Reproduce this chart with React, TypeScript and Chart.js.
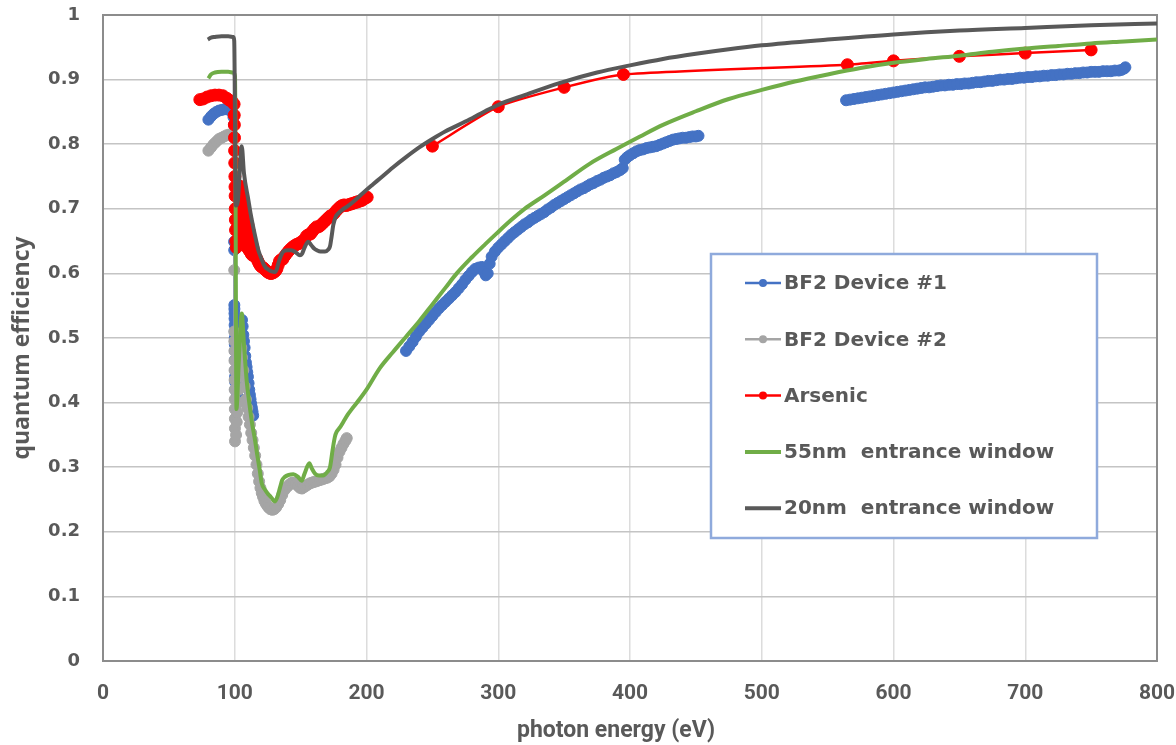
import { useEffect, useRef } from "react";
import { Chart, registerables } from "chart.js";

Chart.register(...registerables);

// ---- text ----
const xTitle = "photon energy (eV)";
const yTitle = "quantum efficiency";
const seriesNames = [
  "BF2 Device #1",
  "BF2 Device #2",
  "Arsenic",
  "55nm  entrance window",
  "20nm  entrance window",
];
const seriesColors = ["#4472c4", "#a5a5a5", "#ff0000", "#70ad47", "#595959"];
const seriesHasMarkers = [true, true, true, false, false];

// ---- BF2 Device #1 (null = gap between measurement runs) ----
const dev1Energy = [
  80, 82, 84, 86, 88, 90, 92, 94, 96, 98,
  99, 99.4, 99.5, 99.6, 99.7, 99.75, 99.8, 99.85, 99.9, 99.95,
  100, 100.05, 100.1, 100.15, 100.2, 100.25, 100.3, 100.35,
  101.5, 102, 102.5, 103, 103.5, 104, 104.5, 105, 105.5, 106,
  106.5, 107, 107.5, 108, 108.5, 109, 109.5, 110, 110.5, 111,
  111.5, 112, 112.5, 113, 113.5, 114,
  170,
  230, 232.5, 235, 237.5, 240, 242.5, 245, 247.5, 250, 252.5,
  255, 257.5, 260, 262.5, 265, 267.5, 270, 272.5, 275, 277.5,
  280, 282.5, 285, 287.5, 289, 290.5, 292, 293.5, 295, 297.5,
  300, 302.5, 305, 307.5, 310, 312.5, 315, 317.5, 320, 322.5,
  325, 327.5, 330, 332.5, 335, 337.5, 340, 342.5, 345, 347.5,
  350, 352.5, 355, 357.5, 360, 362.5, 365, 367.5, 370, 372.5,
  375, 377.5, 380, 382.5, 385, 387.5, 390, 392.5, 394.5, 396,
  398, 400, 402.5, 405, 407.5, 410, 412.5, 415, 417.5, 420,
  422.5, 425, 427.5, 430, 432.5, 435, 437.5, 440, 442.5, 445,
  447.5, 450, 452,
  500,
  564, 567, 570, 573, 576, 579, 582, 585, 588, 591,
  594, 597, 600, 603, 606, 609, 612, 615, 618, 621,
  624, 627, 630, 633, 636, 639, 642, 645, 648, 651,
  654, 657, 660, 663, 666, 669, 672, 675, 678, 681,
  684, 687, 690, 693, 696, 699, 702, 705, 708, 711,
  714, 717, 720, 723, 726, 729, 732, 735, 738, 741,
  744, 747, 750, 753, 756, 759, 762, 765, 768, 771,
  773, 775, 776,
];
const dev1QE = [
  0.838, 0.843, 0.847, 0.85, 0.852, 0.853, 0.854, 0.854, 0.853, 0.85,
  0.842, 0.83, 0.649, 0.636, 0.551, 0.545, 0.538, 0.53, 0.52, 0.51,
  0.5, 0.49, 0.48, 0.466, 0.45, 0.44, 0.432, 0.42,
  0.409, 0.41, 0.425, 0.44, 0.46, 0.48, 0.5, 0.515, 0.528, 0.518,
  0.505, 0.495, 0.485, 0.472, 0.462, 0.455, 0.447, 0.44, 0.43, 0.42,
  0.412, 0.405, 0.398, 0.392, 0.386, 0.38,
  null,
  0.48, 0.487, 0.494, 0.502, 0.51, 0.516, 0.522, 0.528, 0.534, 0.54,
  0.546, 0.551, 0.556, 0.561, 0.566, 0.571, 0.577, 0.583, 0.59, 0.596,
  0.602, 0.607, 0.609, 0.61, 0.603, 0.597, 0.6, 0.615, 0.626, 0.634,
  0.64, 0.645, 0.65, 0.655, 0.66, 0.664, 0.668, 0.672, 0.676, 0.679,
  0.683, 0.686, 0.689, 0.692, 0.695, 0.699, 0.702, 0.706, 0.709, 0.712,
  0.715, 0.718, 0.721, 0.724, 0.727, 0.73, 0.732, 0.735, 0.738, 0.74,
  0.743, 0.745, 0.748, 0.75, 0.752, 0.755, 0.757, 0.76, 0.763, 0.776,
  0.78, 0.783, 0.786, 0.789, 0.791, 0.792, 0.794, 0.795, 0.796, 0.797,
  0.799, 0.801, 0.803, 0.805, 0.807, 0.808, 0.809, 0.81, 0.81, 0.811,
  0.812, 0.812, 0.813,
  null,
  0.868, 0.869, 0.87, 0.871, 0.872, 0.873, 0.874, 0.875, 0.876, 0.877,
  0.878, 0.879, 0.88, 0.881, 0.882, 0.883, 0.884, 0.885, 0.886, 0.887,
  0.888, 0.888, 0.889, 0.89, 0.891, 0.891, 0.892, 0.892, 0.893, 0.893,
  0.894, 0.894, 0.895, 0.896, 0.896, 0.897, 0.898, 0.898, 0.899, 0.9,
  0.9, 0.901, 0.901, 0.902, 0.903, 0.903, 0.904, 0.904, 0.905, 0.905,
  0.906, 0.906, 0.907, 0.907, 0.908, 0.908, 0.909, 0.909, 0.91, 0.91,
  0.911, 0.911, 0.912, 0.912, 0.912, 0.913, 0.913, 0.913, 0.914, 0.914,
  0.915, 0.917, 0.919,
];

// ---- BF2 Device #2 ----
const dev2Energy = [
  80, 82, 84, 86, 88, 90, 92, 94, 96, 98,
  99.3, 99.6, 99.65, 99.7, 99.75, 99.8, 99.85, 99.9, 99.95, 100,
  100.05, 100.1, 100.15, 100.2, 101, 101.5, 102, 102.5, 103, 103.5,
  104, 104.5, 105, 105.5, 106.5, 107.5, 108.5, 109.5, 110.5, 111.5,
  112.5, 113.5, 114.5, 115.5, 116.5, 117.5, 118.5, 119.5, 120.5, 121.5,
  122.5, 123.5, 124.5, 125.5, 127, 128.5, 130, 131.5, 133, 134.5,
  136, 137.5, 139, 140.5, 142, 143.5, 145, 146.5, 148, 149.5,
  151, 152.5, 154, 155.5, 157, 158.5, 160, 161.5, 163, 164.5,
  166, 167.5, 169, 170.5, 172, 173.5, 175, 176.5, 178, 179.5,
  181, 182.5, 184, 185,
];
const dev2QE = [
  0.79, 0.795, 0.8, 0.804, 0.808, 0.81, 0.812, 0.814, 0.815, 0.815,
  0.81, 0.605, 0.51, 0.495, 0.48, 0.465, 0.45, 0.435, 0.42, 0.405,
  0.39, 0.375, 0.36, 0.34, 0.35, 0.37, 0.385, 0.4, 0.42, 0.44,
  0.46, 0.48, 0.485, 0.47, 0.45, 0.425, 0.405, 0.392, 0.378, 0.366,
  0.353, 0.342, 0.33, 0.318, 0.304, 0.29, 0.278, 0.268, 0.26, 0.254,
  0.248, 0.244, 0.241, 0.238, 0.235, 0.234, 0.235, 0.238, 0.243, 0.249,
  0.257, 0.264, 0.268, 0.271, 0.274, 0.276, 0.276, 0.274, 0.271, 0.268,
  0.267, 0.269, 0.271, 0.273, 0.275, 0.276, 0.277, 0.278, 0.279, 0.28,
  0.281, 0.282, 0.283, 0.284, 0.286, 0.29, 0.296, 0.304, 0.315, 0.324,
  0.33, 0.336, 0.341, 0.345,
];

// ---- Arsenic ----
const arsenicEnergy = [
  73.5, 76, 79, 82, 85, 88, 91, 94, 96, 98,
  99.5, 99.6, 99.7, 99.8, 99.9, 100, 100.1, 100.2, 100.3, 100.4,
  100.5, 100.6, 100.8, 101.2, 101.6, 102, 102.5, 103, 103.5, 104,
  104.5, 105, 105.5, 106, 106.5, 107, 107.5, 108, 108.5, 109,
  109.5, 110, 110.5, 111, 111.5, 112, 112.5, 113, 113.5, 114,
  115, 115.8, 116.7, 117.6, 118.5, 119.4, 120.4, 121.2, 122, 123,
  124, 125, 126, 127, 128, 129, 130, 131, 132, 133,
  134, 135, 136.5, 138, 139.5, 141, 142.5, 144, 145.5, 147,
  148.5, 150, 151.5, 153, 154.5, 156, 157.5, 159, 160.5, 162,
  163.5, 165, 166.5, 168, 169.5, 171, 172.5, 174, 175.5, 177,
  178.5, 180, 181.5, 183, 184.5, 186, 187.5, 189, 190.5, 192,
  193.5, 195, 196.5, 198, 199.5, 200.5,
  225,
  250, 300, 350, 395, 565, 600, 650, 700, 750,
];
const arsenicQE = [
  0.869, 0.87, 0.873, 0.875, 0.876, 0.876, 0.875, 0.871, 0.868, 0.866,
  0.862, 0.845, 0.83, 0.81, 0.79, 0.771, 0.75, 0.734, 0.72, 0.7,
  0.683, 0.667, 0.65, 0.64, 0.67, 0.7, 0.667, 0.73, 0.69, 0.735,
  0.68, 0.72, 0.665, 0.71, 0.66, 0.7, 0.65, 0.69, 0.645, 0.685,
  0.64, 0.675, 0.637, 0.665, 0.634, 0.655, 0.63, 0.645, 0.628, 0.638,
  0.627, 0.625, 0.623, 0.619, 0.615, 0.612, 0.61, 0.609, 0.608, 0.606,
  0.604, 0.602, 0.601, 0.6, 0.6, 0.601, 0.602, 0.604, 0.607, 0.613,
  0.619, 0.621, 0.622, 0.627, 0.631, 0.635, 0.638, 0.641, 0.643, 0.645,
  0.646, 0.648, 0.65, 0.653, 0.658, 0.66, 0.661, 0.665, 0.669, 0.672,
  0.672, 0.674, 0.677, 0.68, 0.683, 0.686, 0.689, 0.69, 0.693, 0.697,
  0.7, 0.703, 0.705, 0.706, 0.705, 0.706, 0.707, 0.708, 0.709, 0.71,
  0.711, 0.712, 0.713, 0.715, 0.717, 0.718,
  null,
  0.797, 0.858, 0.888, 0.908, 0.923, 0.929, 0.936, 0.941, 0.946,
];

// ---- 55nm entrance window (model) ----
const win55Energy = [
  80, 82, 85, 90, 95, 99, 100.2, 101.3, 103, 105.3,
  107, 109, 111, 113, 115.4, 117, 119, 120.5, 123, 125.5,
  127, 130.5, 132.5, 134.3, 136, 138, 141, 144.5, 148, 150.8,
  153, 156.6, 158.5, 160.9, 164, 167, 170, 172.3, 174.3, 176,
  177.4, 180, 182.4, 186, 190, 195, 200, 210, 220, 230,
  240, 250, 260, 268.5, 280, 290, 298.8, 310, 320, 331.7,
  350, 369.6, 390, 407.6, 425, 450, 475, 500, 525, 550,
  575, 600, 625, 650, 675, 700, 725, 750, 775, 800,
];
const win55QE = [
  0.902, 0.908, 0.911, 0.912, 0.912, 0.911, 0.905, 0.39, 0.46, 0.538,
  0.49, 0.435, 0.4, 0.37, 0.342, 0.32, 0.295, 0.275, 0.265, 0.258,
  0.255, 0.247, 0.255, 0.268, 0.28, 0.285, 0.288, 0.289, 0.285, 0.279,
  0.29, 0.306, 0.298, 0.29, 0.287, 0.287, 0.292, 0.3, 0.327, 0.347,
  0.355, 0.362, 0.37, 0.382, 0.393, 0.406, 0.42, 0.453, 0.478, 0.502,
  0.526, 0.552, 0.578, 0.6, 0.625, 0.645, 0.662, 0.683, 0.7, 0.716,
  0.742, 0.77, 0.793, 0.812, 0.83, 0.851, 0.87, 0.884, 0.897, 0.908,
  0.918, 0.926, 0.932, 0.937, 0.943, 0.948, 0.952, 0.956, 0.959, 0.962,
];

// ---- 20nm entrance window (model) ----
const win20Energy = [
  79.5, 82, 85, 90, 95, 99, 99.6, 100.8, 102.2, 105.3,
  107, 110.3, 112, 114, 116, 117.9, 120, 121.7, 123.5, 125.5,
  128, 130.5, 132, 133, 135, 136.8, 140, 143, 146, 149.5,
  151, 153, 155.8, 158, 160.5, 162.2, 165, 168.5, 171, 172.3,
  173.5, 174.8, 176.5, 178.6, 182, 185, 190, 197.6, 205, 210.2,
  220, 230, 240, 250, 260, 275, 290, 300, 320, 347,
  375, 400, 425, 450, 475, 500, 550, 600, 650, 700,
  750, 800,
];
const win20QE = [
  0.962, 0.965, 0.966, 0.967, 0.967, 0.966, 0.96, 0.705, 0.71, 0.797,
  0.755, 0.714, 0.693, 0.672, 0.653, 0.636, 0.624, 0.615, 0.609, 0.606,
  0.603, 0.602, 0.607, 0.615, 0.627, 0.634, 0.636, 0.636, 0.633, 0.628,
  0.63, 0.64, 0.649, 0.644, 0.638, 0.636, 0.634, 0.634, 0.637, 0.642,
  0.657, 0.675, 0.687, 0.693, 0.699, 0.703, 0.711, 0.725, 0.738, 0.747,
  0.764, 0.78, 0.795, 0.808, 0.82, 0.835, 0.851, 0.861, 0.876, 0.895,
  0.911, 0.922, 0.932, 0.94, 0.947, 0.953, 0.962, 0.97, 0.976, 0.98,
  0.984, 0.987,
];

const TEXT_COLOR = "#595959";

const toPoints = (xs: number[], ys: (number | null)[]) =>
  xs.map((x, i) => ({ x, y: ys[i] }));

// Plot-area frame (all four sides)
const framePlugin = {
  id: "plotFrame",
  beforeDatasetsDraw(chart: any) {
    const { ctx, chartArea: a } = chart;
    ctx.save();
    ctx.strokeStyle = "#8c8c8c";
    ctx.lineWidth = 2;
    ctx.strokeRect(a.left, a.top, a.right - a.left, a.bottom - a.top);
    ctx.restore();
  },
};

// Axis titles
const titlePlugin = {
  id: "axisTitles",
  afterDraw(chart: any) {
    const { ctx } = chart;
    ctx.save();
    ctx.fillStyle = TEXT_COLOR;
    ctx.textAlign = "center";
    ctx.textBaseline = "middle";
    ctx.font = "bold 23px 'Liberation Sans Narrow', 'Roboto'";
    ctx.fillText(xTitle, 616, 731);
    ctx.translate(22, 348);
    ctx.rotate(-Math.PI / 2);
    ctx.font = "bold 23px 'Open Sans'";
    ctx.fillText(yTitle, 0, 0);
    ctx.restore();
  },
};

// Boxed legend inside the plot
const legendPlugin = {
  id: "boxLegend",
  afterDraw(chart: any) {
    const { ctx } = chart;
    const bx = 711, by = 254, bw = 386, bh = 284;
    ctx.save();
    ctx.fillStyle = "#ffffff";
    ctx.fillRect(bx, by, bw, bh);
    ctx.strokeStyle = "#8faadc";
    ctx.lineWidth = 2.5;
    ctx.strokeRect(bx, by, bw, bh);
    ctx.font = "bold 20px 'DejaVu Sans'";
    ctx.textAlign = "left";
    ctx.textBaseline = "middle";
    seriesNames.forEach((name, i) => {
      const y = 283 + i * 56.3;
      ctx.strokeStyle = seriesColors[i];
      ctx.lineWidth = seriesHasMarkers[i] ? 2.5 : 4;
      ctx.beginPath();
      ctx.moveTo(745, y);
      ctx.lineTo(781, y);
      ctx.stroke();
      if (seriesHasMarkers[i]) {
        ctx.fillStyle = seriesColors[i];
        ctx.beginPath();
        ctx.arc(763, y, 4, 0, Math.PI * 2);
        ctx.fill();
      }
      ctx.fillStyle = TEXT_COLOR;
      ctx.fillText(name, 784, y + 1);
    });
    ctx.restore();
  },
};

export default function App() {
  const canvasRef = useRef<HTMLCanvasElement>(null);

  useEffect(() => {
    document.body.style.margin = "0";
    const canvas = canvasRef.current;
    if (!canvas) return;

    const markerSeries = (i: number, data: any[], radius: number, extra = {}) => ({
      label: seriesNames[i],
      data,
      showLine: true,
      spanGaps: false,
      borderColor: seriesColors[i],
      backgroundColor: seriesColors[i],
      pointBackgroundColor: seriesColors[i],
      pointBorderColor: seriesColors[i],
      pointBorderWidth: 1,
      pointRadius: radius,
      borderWidth: 2,
      order: 5 - i,
      ...extra,
    });

    const lineSeries = (i: number, data: any[]) => ({
      label: seriesNames[i],
      data,
      showLine: true,
      borderColor: seriesColors[i],
      backgroundColor: seriesColors[i],
      borderWidth: 4,
      pointRadius: 0,
      cubicInterpolationMode: "monotone" as const,
      order: 5 - i,
    });

    const chart = new Chart(canvas, {
      type: "scatter",
      data: {
        datasets: [
          markerSeries(0, toPoints(dev1Energy, dev1QE), 5.5),
          markerSeries(1, toPoints(dev2Energy, dev2QE), 5.5),
          markerSeries(2, toPoints(arsenicEnergy, arsenicQE), 6, {
            borderWidth: 2.5,
            tension: 0.2,
          }),
          lineSeries(3, toPoints(win55Energy, win55QE)),
          lineSeries(4, toPoints(win20Energy, win20QE)),
        ] as any,
      },
      options: {
        responsive: false,
        animation: false,
        layout: { padding: { top: 15, right: 19, left: 0, bottom: 0 } },
        plugins: {
          legend: { display: false },
          tooltip: { enabled: false },
        },
        scales: {
          x: {
            type: "linear",
            min: 0,
            max: 800,
            afterFit: (s: any) => {
              s.height = 84;
              s.paddingLeft = 0;
              s.paddingRight = 0;
            },
            ticks: {
              stepSize: 100,
              color: TEXT_COLOR,
              padding: 20,
              font: { family: "'Liberation Sans Narrow', 'Roboto'", size: 21, weight: "bold" },
            },
            grid: { color: "#dcdcdc", lineWidth: 1.5, drawTicks: false },
            border: { display: false },
          },
          y: {
            type: "linear",
            min: 0,
            max: 1,
            afterFit: (s: any) => {
              s.width = 103;
              s.paddingTop = 0;
              s.paddingBottom = 0;
            },
            ticks: {
              stepSize: 0.1,
              color: TEXT_COLOR,
              padding: 23,
              font: { family: "'DejaVu Sans'", size: 18, weight: "bold" },
              callback: (v: any) => String(Number(Number(v).toFixed(1))),
            },
            grid: { color: "#c4c4c4", lineWidth: 1.5, drawTicks: false },
            border: { display: false },
          },
        },
      },
      plugins: [framePlugin, titlePlugin, legendPlugin],
    });

    return () => chart.destroy();
  }, []);

  return (
    <div style={{ width: 1176, height: 745, position: "relative", background: "#ffffff" }}>
      <canvas ref={canvasRef} width={1176} height={745} style={{ display: "block" }} />
    </div>
  );
}
